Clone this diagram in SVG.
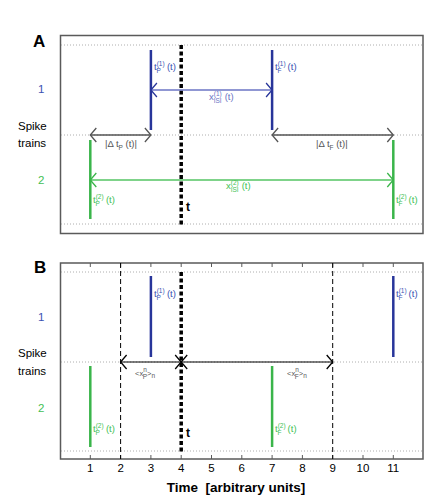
<svg xmlns="http://www.w3.org/2000/svg" width="424" height="496" viewBox="0 0 424 496">
<style>
text{font-family:"Liberation Sans",Arial,sans-serif}
.frame{fill:none;stroke:#5a5a5a;stroke-width:1.5}
.dot{stroke:#9a9a9a;stroke-width:0.8;stroke-dasharray:1,2;fill:none}
.tick{stroke:#5a5a5a;stroke-width:1}
.bs{stroke:#28359a;stroke-width:2.5}
.gs{stroke:#3ab54a;stroke-width:2.5}
.tdash{stroke:#000;stroke-width:3.5;stroke-dasharray:4,2.5}
.thin{stroke:#000;stroke-width:1;stroke-dasharray:5,3}
.lb{font-size:9.5px}
.sm{font-size:6.5px}
.bt{fill:#3a52b2}
.gt{fill:#44bf56}
.gy{fill:#555}
.num{font-size:11.5px}
.big{font-size:17px;font-weight:bold}
.tb{font-size:12px;font-weight:bold}
</style>
<defs>
<marker id="ag" markerUnits="userSpaceOnUse" markerWidth="20" markerHeight="20" refX="0" refY="0" viewBox="-10 -10 20 20" orient="auto-start-reverse" overflow="visible">
<path d="M-6,-7 L0,0 L-6,7" fill="none" stroke="#555" stroke-width="1.3"/>
</marker>
<marker id="ab" markerUnits="userSpaceOnUse" markerWidth="20" markerHeight="20" refX="0" refY="0" viewBox="-10 -10 20 20" orient="auto-start-reverse" overflow="visible">
<path d="M-6,-7 L0,0 L-6,7" fill="none" stroke="#28359a" stroke-width="1.3"/>
</marker>
<marker id="agr" markerUnits="userSpaceOnUse" markerWidth="20" markerHeight="20" refX="0" refY="0" viewBox="-10 -10 20 20" orient="auto-start-reverse" overflow="visible">
<path d="M-6,-7 L0,0 L-6,7" fill="none" stroke="#3ab54a" stroke-width="1.3"/>
</marker>
<marker id="ak" markerUnits="userSpaceOnUse" markerWidth="20" markerHeight="20" refX="0" refY="0" viewBox="-10 -10 20 20" orient="auto-start-reverse" overflow="visible">
<path d="M-6,-7 L0,0 L-6,7" fill="none" stroke="#000" stroke-width="1.3"/>
</marker>
</defs>

<g id="panelA">
<rect class="frame" x="60.5" y="35.5" width="362.5" height="198"/>
<line class="dot" x1="61" y1="45" x2="422" y2="45"/>
<line class="dot" x1="61" y1="135" x2="422" y2="135"/>
<line class="dot" x1="61" y1="224" x2="422" y2="224"/>
<text class="big" x="33" y="47">A</text>
<text class="num bt" x="38" y="93">1</text>
<text class="num" x="18" y="130">Spike</text>
<text class="num" x="18" y="147">trains</text>
<text class="num gt" x="38" y="184">2</text>
</g>

<g id="panelB">
<rect class="frame" x="60.5" y="263" width="362.5" height="196"/>
<line class="dot" x1="61" y1="272" x2="422" y2="272"/>
<line class="dot" x1="61" y1="362" x2="422" y2="362"/>
<line class="dot" x1="61" y1="451" x2="422" y2="451"/>
<g class="tick">
<line x1="90.3" y1="263" x2="90.3" y2="267"/><line x1="120.6" y1="263" x2="120.6" y2="267"/><line x1="150.9" y1="263" x2="150.9" y2="267"/><line x1="181.2" y1="263" x2="181.2" y2="267"/><line x1="211.5" y1="263" x2="211.5" y2="267"/><line x1="241.8" y1="263" x2="241.8" y2="267"/><line x1="272.1" y1="263" x2="272.1" y2="267"/><line x1="302.4" y1="263" x2="302.4" y2="267"/><line x1="332.7" y1="263" x2="332.7" y2="267"/><line x1="363" y1="263" x2="363" y2="267"/><line x1="393.3" y1="263" x2="393.3" y2="267"/>
<line x1="90.3" y1="459" x2="90.3" y2="455"/><line x1="120.6" y1="459" x2="120.6" y2="455"/><line x1="150.9" y1="459" x2="150.9" y2="455"/><line x1="181.2" y1="459" x2="181.2" y2="455"/><line x1="211.5" y1="459" x2="211.5" y2="455"/><line x1="241.8" y1="459" x2="241.8" y2="455"/><line x1="272.1" y1="459" x2="272.1" y2="455"/><line x1="302.4" y1="459" x2="302.4" y2="455"/><line x1="332.7" y1="459" x2="332.7" y2="455"/><line x1="363" y1="459" x2="363" y2="455"/><line x1="393.3" y1="459" x2="393.3" y2="455"/>
</g>
<g class="num" text-anchor="middle">
<text x="90.3" y="472">1</text><text x="120.6" y="472">2</text><text x="150.9" y="472">3</text><text x="181.2" y="472">4</text><text x="211.5" y="472">5</text><text x="241.8" y="472">6</text><text x="272.1" y="472">7</text><text x="302.4" y="472">8</text><text x="332.7" y="472">9</text><text x="363" y="472">10</text><text x="393.3" y="472">11</text>
</g>
<text x="236" y="492" text-anchor="middle" font-size="13.5" font-weight="bold" xml:space="preserve">Time  [arbitrary units]</text>
<text class="big" x="34" y="273">B</text>
<text class="num bt" x="38" y="321">1</text>
<text class="num" x="18" y="357">Spike</text>
<text class="num" x="18" y="375">trains</text>
<text class="num gt" x="38" y="412">2</text>
</g>

<g id="spikesA">
<line class="bs" x1="150.9" y1="50" x2="150.9" y2="130"/>
<line class="bs" x1="272.1" y1="50" x2="272.1" y2="130"/>
<line class="gs" x1="90.3" y1="140" x2="90.3" y2="219"/>
<line class="gs" x1="393.3" y1="140" x2="393.3" y2="219"/>
<line class="tdash" x1="181.2" y1="45" x2="181.2" y2="226"/>
<text class="lb bt" x="154" y="70">t<tspan class="sm" dy="-4">(1)</tspan><tspan class="sm" dx="-8" dy="7">P</tspan><tspan dy="-3" dx="6">(t)</tspan></text>
<text class="lb bt" x="275" y="70">t<tspan class="sm" dy="-4">(1)</tspan><tspan class="sm" dx="-8" dy="7">F</tspan><tspan dy="-3" dx="6">(t)</tspan></text>
<text class="lb gt" x="93" y="203">t<tspan class="sm" dy="-4">(2)</tspan><tspan class="sm" dx="-8" dy="7">P</tspan><tspan dy="-3" dx="6">(t)</tspan></text>
<text class="lb gt" x="396" y="203">t<tspan class="sm" dy="-4">(2)</tspan><tspan class="sm" dx="-8" dy="7">F</tspan><tspan dy="-3" dx="6">(t)</tspan></text>
<text class="tb" x="186" y="211">t</text>
</g>

<g id="spikesB">
<line class="bs" x1="150.9" y1="276" x2="150.9" y2="357"/>
<line class="bs" x1="393.3" y1="276" x2="393.3" y2="357"/>
<line class="gs" x1="90.3" y1="366" x2="90.3" y2="447"/>
<line class="gs" x1="272.1" y1="366" x2="272.1" y2="447"/>
<line class="thin" x1="120.6" y1="263" x2="120.6" y2="459"/>
<line class="thin" x1="332.7" y1="263" x2="332.7" y2="459"/>
<line class="tdash" x1="181.2" y1="272" x2="181.2" y2="452"/>
<text class="lb bt" x="154" y="297">t<tspan class="sm" dy="-4">(1)</tspan><tspan class="sm" dx="-8" dy="7">P</tspan><tspan dy="-3" dx="6">(t)</tspan></text>
<text class="lb bt" x="396" y="297">t<tspan class="sm" dy="-4">(1)</tspan><tspan class="sm" dx="-8" dy="7">F</tspan><tspan dy="-3" dx="6">(t)</tspan></text>
<text class="lb gt" x="93" y="432">t<tspan class="sm" dy="-4">(2)</tspan><tspan class="sm" dx="-8" dy="7">P</tspan><tspan dy="-3" dx="6">(t)</tspan></text>
<text class="lb gt" x="275" y="432">t<tspan class="sm" dy="-4">(2)</tspan><tspan class="sm" dx="-8" dy="7">F</tspan><tspan dy="-3" dx="6">(t)</tspan></text>
<text class="tb" x="186" y="437">t</text>
</g>

<g id="connectors">
<line x1="150.9" y1="90" x2="272.1" y2="90" stroke="#6b74c4" stroke-width="1.5" marker-start="url(#ab)" marker-end="url(#ab)"/>
<line x1="90.3" y1="135" x2="150.9" y2="135" stroke="#555" stroke-width="1.5" marker-start="url(#ag)" marker-end="url(#ag)"/>
<line x1="272.1" y1="135" x2="393.3" y2="135" stroke="#555" stroke-width="1.5" marker-start="url(#ag)" marker-end="url(#ag)"/>
<line x1="90.3" y1="180" x2="393.3" y2="180" stroke="#55c463" stroke-width="1.5" marker-start="url(#agr)" marker-end="url(#agr)"/>
<line x1="120.6" y1="362" x2="181.2" y2="362" stroke="#000" stroke-width="1" marker-start="url(#ak)" marker-end="url(#ak)"/>
<line x1="181.2" y1="362" x2="332.7" y2="362" stroke="#000" stroke-width="1" marker-start="url(#ak)" marker-end="url(#ak)"/>
<text class="lb" x="209" y="100" fill="#6b74c4">x<tspan class="sm" dy="-4">(1)</tspan><tspan class="sm" dx="-8" dy="7">ISI</tspan><tspan dy="-3" dx="3">(t)</tspan></text>
<text class="lb gt" x="226" y="189">x<tspan class="sm" dy="-4">(2)</tspan><tspan class="sm" dx="-8" dy="7">ISI</tspan><tspan dy="-3" dx="3">(t)</tspan></text>
<text class="lb gy" x="105" y="147">|Δ t<tspan class="sm" dy="2.5">P</tspan><tspan dy="-2.5"> (t)|</tspan></text>
<text class="lb gy" x="316" y="147">|Δ t<tspan class="sm" dy="2.5">F</tspan><tspan dy="-2.5"> (t)|</tspan></text>
<text class="gy" font-size="7.5" x="135" y="376">&lt;x<tspan class="sm" dy="-4">n</tspan><tspan class="sm" dx="-4" dy="7">P</tspan><tspan dy="-3">&gt;</tspan><tspan class="sm" dy="2">n</tspan></text>
<text class="gy" font-size="7.5" x="287" y="376">&lt;x<tspan class="sm" dy="-4">n</tspan><tspan class="sm" dx="-4" dy="7">F</tspan><tspan dy="-3">&gt;</tspan><tspan class="sm" dy="2">n</tspan></text>
</g>
</svg>
